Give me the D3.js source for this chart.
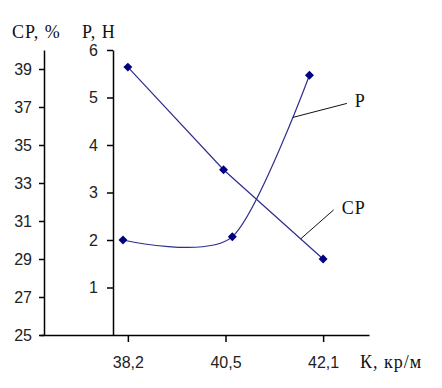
<!DOCTYPE html>
<html lang="ru">
<head>
<meta charset="UTF-8">
<title>СР и Р от К</title>
<script src="https://d3js.org/d3.v7.min.js"></script>
<style>
    body { margin: 0; background: #fff; }
    svg { display: block; }
    .tick text { font-family: "Liberation Sans", Arial, sans-serif; font-size: 16px; fill: #222; }
    .tick line, .domain { stroke: #000; stroke-width: 1.5px; }
    .title { font-family: "Liberation Serif", "Times New Roman", serif; font-size: 18px; fill: #111; letter-spacing: 1px; }
</style>
</head>
<body>
<svg width="442" height="388"></svg>
<script>
// categories on the x axis (К, кр/м)
const categories = ["38,2", "40,5", "42,1"];
// position of each point along the category axis (index units)
const cpPos = [0, 0.98, 2];
const cpValues = [39.1, 33.7, 29.0];      // СР, %
const pPos = [-0.05, 1.07, 1.86];
const pValues = [2.0, 2.07, 5.47];        // Р, Н
const cpTicks = [25, 27, 29, 31, 33, 35, 37, 39];
const pTicks = [1, 2, 3, 4, 5, 6];

const svg = d3.select("svg");

const x = d3.scaleLinear().domain([-0.9, 2.47]).range([40, 369]);
const yCP = d3.scaleLinear().domain([25, 40]).range([335, 50]);
const yP = d3.scaleLinear().domain([0, 6]).range([335, 50]);

// x axis
const xAxis = svg.append("g")
    .attr("transform", "translate(0,335)")
    .call(d3.axisBottom(x).tickValues([0, 1, 2]).tickFormat(i => categories[i])
        .tickSize(7).tickSizeOuter(0).tickPadding(12));
xAxis.selectAll(".tick text").attr("dy", "0.9em");

// left axis: СР
svg.append("g")
    .attr("transform", "translate(44,0)")
    .call(d3.axisLeft(yCP).tickValues(cpTicks).tickSize(5).tickSizeOuter(0).tickPadding(7));

// second axis: Р
svg.append("g")
    .attr("transform", "translate(113,0)")
    .call(d3.axisLeft(yP).tickValues(pTicks).tickFormat(d3.format("d"))
        .tickSize(6).tickSizeOuter(0).tickPadding(9));

// axis titles
svg.append("text").attr("class", "title").attr("x", 12).attr("y", 38).text("СР, %");
svg.append("text").attr("class", "title").attr("x", 82).attr("y", 38)
    .attr("letter-spacing", "2.5px").text("Р, Н");
svg.append("text").attr("class", "title").attr("x", 360).attr("y", 368).text("К, кр/м");

const lineColor = "#2e2e8f";
const markColor = "#000080";

const cpData = cpValues.map((v, i) => ({ x: cpPos[i], y: v }));
const pData = pValues.map((v, i) => ({ x: pPos[i], y: v }));

const cpPath = svg.append("path")
    .datum(cpData)
    .attr("fill", "none")
    .attr("stroke", lineColor)
    .attr("stroke-width", 1.2)
    .attr("d", d3.line().x(d => x(d.x)).y(d => yCP(d.y)));

const pPath = svg.append("path")
    .datum(pData)
    .attr("fill", "none")
    .attr("stroke", lineColor)
    .attr("stroke-width", 1.2)
    .attr("d", d3.line().curve(d3.curveCardinal.tension(0.2)).x(d => x(d.x)).y(d => yP(d.y)));

const marker = d3.symbol().type(d3.symbolSquare).size(40);
svg.append("g").selectAll("path")
    .data(cpData)
    .join("path")
    .attr("d", marker)
    .attr("fill", markColor)
    .attr("transform", d => `translate(${x(d.x)},${yCP(d.y)}) rotate(45)`);
svg.append("g").selectAll("path")
    .data(pData)
    .join("path")
    .attr("d", marker)
    .attr("fill", markColor)
    .attr("transform", d => `translate(${x(d.x)},${yP(d.y)}) rotate(45)`);

// find the point on a path at a given x
function pointAtX(path, px) {
    const node = path.node();
    let lo = 0, hi = node.getTotalLength();
    for (let k = 0; k < 40; k++) {
        const mid = (lo + hi) / 2;
        if (node.getPointAtLength(mid).x < px) lo = mid; else hi = mid;
    }
    return node.getPointAtLength(lo);
}

// series labels with leader lines
const labels = [
    { text: "Р", path: pPath, at: 1.69, dx: 54, dy: -14 },
    { text: "СР", path: cpPath, at: 1.77, dx: 33, dy: -29 }
];
labels.forEach(l => {
    const p = pointAtX(l.path, x(l.at));
    svg.append("line")
        .attr("x1", p.x).attr("y1", p.y)
        .attr("x2", p.x + l.dx).attr("y2", p.y + l.dy)
        .attr("stroke", "#111").attr("stroke-width", 1);
    svg.append("text").attr("class", "title")
        .attr("x", p.x + l.dx + 8).attr("y", p.y + l.dy + 4)
        .text(l.text);
});
</script>
</body>
</html>
